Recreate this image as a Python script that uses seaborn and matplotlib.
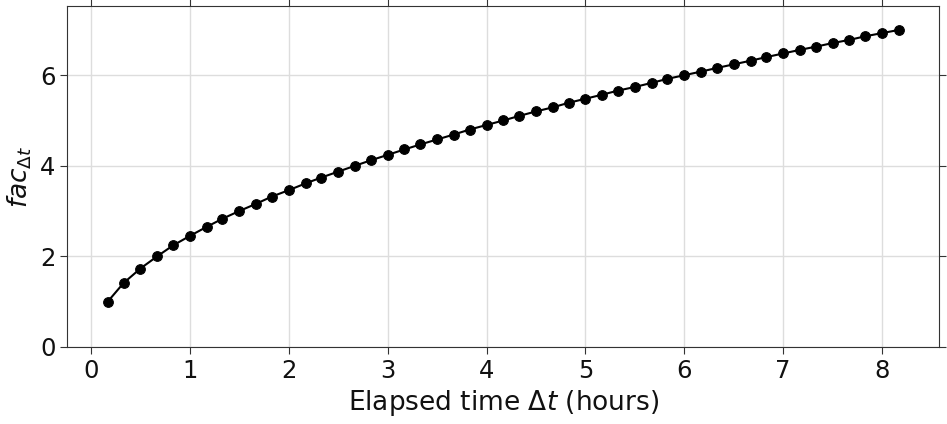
import pandas as pd
import matplotlib
matplotlib.use("Agg")
import matplotlib.pyplot as plt
import seaborn as sns

elapsed_hours = [0.17, 0.33, 0.50, 0.67, 0.83, 1.00, 1.17, 1.33, 1.50, 1.67,
                 1.83, 2.00, 2.17, 2.33, 2.50, 2.67, 2.83, 3.00, 3.17, 3.33,
                 3.50, 3.67, 3.83, 4.00, 4.17, 4.33, 4.50, 4.67, 4.83, 5.00,
                 5.17, 5.33, 5.50, 5.67, 5.83, 6.00, 6.17, 6.33, 6.50, 6.67,
                 6.83, 7.00, 7.17, 7.33, 7.50, 7.67, 7.83, 8.00, 8.17]
fac_values = [1.00, 1.41, 1.73, 2.00, 2.24, 2.45, 2.65, 2.83, 3.00, 3.16,
              3.32, 3.46, 3.61, 3.74, 3.87, 4.00, 4.12, 4.24, 4.36, 4.47,
              4.58, 4.69, 4.80, 4.90, 5.00, 5.10, 5.20, 5.29, 5.39, 5.48,
              5.57, 5.66, 5.74, 5.83, 5.92, 6.00, 6.08, 6.16, 6.24, 6.32,
              6.40, 6.48, 6.56, 6.63, 6.71, 6.78, 6.86, 6.93, 7.00]
x_ticks = [0, 1, 2, 3, 4, 5, 6, 7, 8]
y_ticks = [0, 2, 4, 6]

df = pd.DataFrame({"dt": elapsed_hours, "fac": fac_values})

sns.set_style("ticks")
plt.rcParams["text.color"] = "black"
plt.rcParams["axes.labelcolor"] = "black"
plt.rcParams["xtick.color"] = "black"
plt.rcParams["ytick.color"] = "black"

fig, ax = plt.subplots(figsize=(9.47, 4.24), dpi=100)
fig.subplots_adjust(left=0.071, right=0.992, top=0.986, bottom=0.182)

sns.lineplot(data=df, x="dt", y="fac", ax=ax, color="black", marker="o",
             markersize=7, linewidth=1.5, markeredgecolor="black")

ax.set_xticks(x_ticks)
ax.set_yticks(y_ticks)
ax.set_xlim(-0.24, 8.58)
ax.set_ylim(0, 7.53)
ax.grid(True, color="#dddddd", linewidth=1)
ax.tick_params(axis="both", which="both", direction="out", top=True, right=True,
               labelsize=17.5, length=5, color="#333333", labelcolor="#111111")
for s in ax.spines.values():
    s.set_color("#333333")
ax.set_xlabel(r"Elapsed time $\Delta t$ (hours)", fontsize=19, color="#111111")
ax.set_ylabel(r"$fac_{\Delta t}$", fontsize=19, color="#111111")

plt.savefig("out.png", dpi=100)
